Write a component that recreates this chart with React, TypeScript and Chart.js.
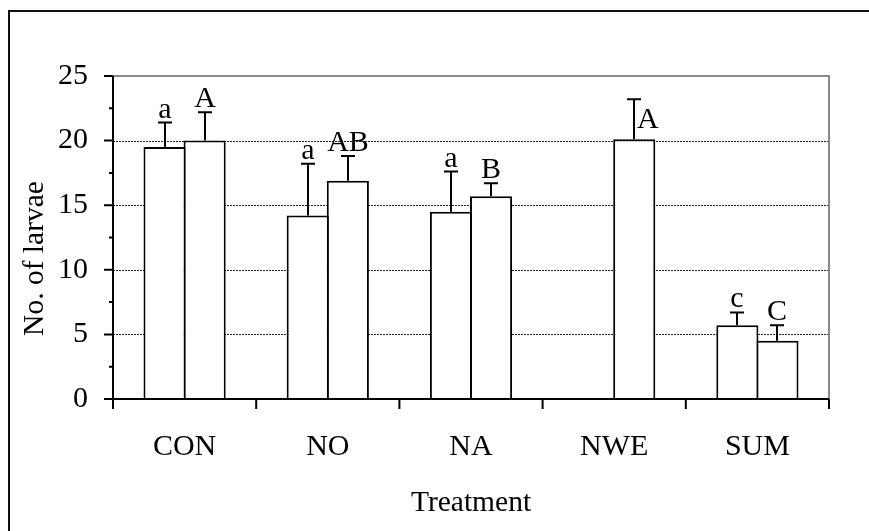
import React, { useEffect, useRef } from 'react';
import { Chart, registerables } from 'chart.js';

Chart.register(...registerables);

const categories = ['CON', 'NO', 'NA', 'NWE', 'SUM'];
const seriesAMeans = [19.5, 14.2, 14.5, null, 5.7];
const seriesAErrors = [1.9, 4.0, 3.1, null, 1.0];
const seriesALetters = ['a', 'a', 'a', '', 'c'];
const seriesBMeans = [20.0, 16.9, 15.7, 20.1, 4.5];
const seriesBErrors = [2.2, 1.9, 1.0, 3.1, 1.2];
const seriesBLetters = ['A', 'AB', 'B', 'A', 'C'];
const yMajorTicks = [0, 5, 10, 15, 20, 25];
const yMinorTicks = [2.5, 7.5, 12.5, 17.5, 22.5];
const yGridValues = [5, 10, 15, 20];
const yTitle = 'No. of larvae';
const xTitle = 'Treatment';

const FONT = '"Liberation Serif", "Times New Roman", serif';

const customDraw = {
  id: 'customDraw',
  beforeDraw(chart: any) {
    const ctx = chart.ctx;
    ctx.save();
    ctx.strokeStyle = '#111';
    ctx.lineWidth = 2;
    ctx.beginPath();
    ctx.moveTo(9, 531);
    ctx.lineTo(9, 11);
    ctx.lineTo(869, 11);
    ctx.stroke();
    // y-axis title
    ctx.translate(35, 258.5);
    ctx.rotate(-Math.PI / 2);
    ctx.fillStyle = '#000';
    ctx.font = `29.5px ${FONT}`;
    ctx.textAlign = 'center';
    ctx.textBaseline = 'middle';
    ctx.fillText(yTitle, 0, 0);
    ctx.restore();
  },
  beforeDatasetsDraw(chart: any) {
    const ctx = chart.ctx;
    const { left, right, top, bottom } = chart.chartArea;
    const y = chart.scales.y;
    ctx.save();
    ctx.strokeStyle = '#222';
    ctx.lineWidth = 1;
    ctx.setLineDash([2, 1]);
    yGridValues.forEach((v) => {
      const py = Math.round(y.getPixelForValue(v)) + 0.5;
      ctx.beginPath();
      ctx.moveTo(left, py);
      ctx.lineTo(right, py);
      ctx.stroke();
    });
    ctx.setLineDash([]);
    ctx.strokeStyle = '#8a8a8a';
    ctx.lineWidth = 2;
    ctx.beginPath();
    ctx.moveTo(left, top);
    ctx.lineTo(right, top);
    ctx.lineTo(right, bottom);
    ctx.stroke();
    ctx.restore();
  },
  afterDatasetsDraw(chart: any) {
    const ctx = chart.ctx;
    const { left, right, top, bottom } = chart.chartArea;
    const y = chart.scales.y;
    const means = [seriesAMeans, seriesBMeans];
    const errs = [seriesAErrors, seriesBErrors];
    const letters = [seriesALetters, seriesBLetters];
    ctx.save();
    ctx.strokeStyle = '#000';
    ctx.fillStyle = '#000';
    ctx.lineWidth = 2;
    for (let d = 0; d < 2; d++) {
      const meta = chart.getDatasetMeta(d);
      meta.data.forEach((bar: any, j: number) => {
        const m = means[d][j];
        const e = errs[d][j];
        if (m == null || e == null) return;
        const bx = Math.round(bar.x);
        const yTop = y.getPixelForValue(m + e);
        const yBar = y.getPixelForValue(m);
        ctx.beginPath();
        ctx.moveTo(bx, yBar);
        ctx.lineTo(bx, yTop);
        ctx.moveTo(bx - 7, yTop);
        ctx.lineTo(bx + 7, yTop);
        ctx.stroke();
        const label = letters[d][j];
        if (!label) return;
        ctx.font = `30px ${FONT}`;
        const other = means[1 - d][j];
        ctx.textBaseline = 'alphabetic';
        if (other == null) {
          ctx.textAlign = 'left';
          ctx.fillText(label, bx + 3, yBar - 11);
        } else {
          ctx.textAlign = 'center';
          ctx.fillText(label, bx, yTop - 5);
        }
      });
    }
    // axes
    ctx.strokeStyle = '#000';
    ctx.lineWidth = 2;
    ctx.beginPath();
    ctx.moveTo(left, top);
    ctx.lineTo(left, bottom);
    ctx.moveTo(left - 9, bottom);
    ctx.lineTo(right, bottom);
    ctx.stroke();
    ctx.beginPath();
    yMajorTicks.forEach((v) => {
      const py = y.getPixelForValue(v);
      ctx.moveTo(left - 9, py);
      ctx.lineTo(left, py);
    });
    yMinorTicks.forEach((v) => {
      const py = y.getPixelForValue(v);
      ctx.moveTo(left - 4, py);
      ctx.lineTo(left, py);
    });
    const n = categories.length;
    for (let i = 0; i <= n; i++) {
      const px = left + ((right - left) * i) / n;
      ctx.moveTo(px, bottom);
      ctx.lineTo(px, bottom + 10);
    }
    ctx.stroke();
    ctx.restore();
  },
};

export default function App() {
  const ref = useRef<HTMLCanvasElement | null>(null);
  useEffect(() => {
    document.body.style.margin = '0';
    const canvas = ref.current;
    if (!canvas) return;
    const chart = new Chart(canvas, {
      type: 'bar',
      data: {
        labels: categories,
        datasets: [
          {
            data: seriesAMeans as any,
            backgroundColor: '#ffffff',
            borderColor: '#000000',
            borderWidth: 2,
            categoryPercentage: 0.56,
            barPercentage: 1.05,
          },
          {
            data: seriesBMeans as any,
            backgroundColor: '#ffffff',
            borderColor: '#000000',
            borderWidth: 2,
            categoryPercentage: 0.56,
            barPercentage: 1.05,
          },
        ],
      },
      options: {
        responsive: false,
        animation: false,
        devicePixelRatio: 1,
        layout: { padding: { left: 0, top: 76, right: 40, bottom: 0 } },
        plugins: {
          legend: { display: false },
          tooltip: { enabled: false },
        },
        scales: {
          x: {
            type: 'category',
            offset: true,
            grid: { display: false, drawTicks: false },
            border: { display: false },
            ticks: {
              color: '#000',
              font: { family: FONT, size: 30 },
              padding: 30,
              maxRotation: 0,
            },
            title: {
              display: true,
              text: xTitle,
              color: '#000',
              font: { family: FONT, size: 29.5 },
              padding: { top: 0, bottom: 10 },
            },
            afterFit: (scale: any) => {
              scale.height = 132;
            },
          },
          y: {
            min: 0,
            max: 25,
            grid: { display: false, drawTicks: false },
            border: { display: false },
            ticks: {
              stepSize: 5,
              color: '#000',
              font: { family: FONT, size: 30 },
              padding: 25,
            },
            afterFit: (scale: any) => {
              scale.width = 113;
            },
          },
        },
      },
      plugins: [customDraw],
    });
    return () => chart.destroy();
  }, []);
  return (
    <div style={{ width: 869, height: 531, background: '#fff' }}>
      <canvas ref={ref} width={869} height={531} style={{ display: 'block', width: 869, height: 531 }} />
    </div>
  );
}
